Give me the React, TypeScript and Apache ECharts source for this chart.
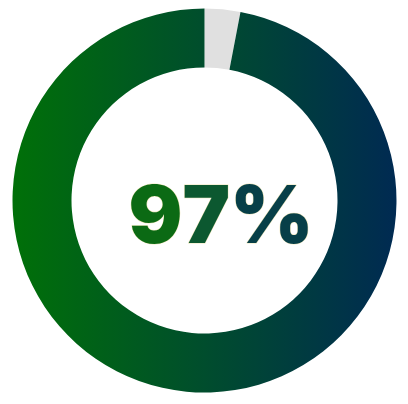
import React, { useRef, useEffect } from 'react';
import * as echarts from 'echarts';

const segmentNames = ['Remaining', 'Complete'];
const segmentValues = [3, 97];
const percentLabel = `${segmentValues[1]}%`;
// svg text can't take a gradient fill, so each glyph gets a step of it
const glyphColors = ['#0b6a14', '#0c5830', '#073f48'];

export default function App() {
  const chartRef = useRef<HTMLDivElement>(null);

  useEffect(() => {
    if (!chartRef.current) return;
    const chart = echarts.init(chartRef.current, undefined, { renderer: 'svg' });

    const ringGradient = new echarts.graphic.LinearGradient(0, 0, 1, 0, [
      { offset: 0, color: '#007008' },
      { offset: 1, color: '#002a52' }
    ]);

    const glyphs = percentLabel.split('');
    const rich: Record<string, any> = {};
    glyphs.forEach((_, i) => {
      rich['g' + i] = {
        fill: glyphColors[i],
        font: '900 80px Inter',
        stroke: 'rgba(230, 215, 140, 0.6)',
        lineWidth: 1
      };
    });

    const option: echarts.EChartsOption = {
      animation: false,
      backgroundColor: '#ffffff',
      series: [
        {
          type: 'pie',
          center: [204.5, 200.5],
          radius: [133, 192],
          startAngle: 90,
          clockwise: true,
          silent: true,
          label: { show: false },
          labelLine: { show: false },
          data: segmentNames.map((name, i) => ({
            name,
            value: segmentValues[i],
            itemStyle: {
              color: i === 0 ? '#e0e0e0' : ringGradient,
              borderWidth: 0
            }
          }))
        }
      ],
      graphic: [
        {
          type: 'text',
          x: 221,
          y: 213,
          style: {
            text: glyphs.map((c, i) => `{g${i}|${c}}`).join(''),
            rich,
            font: '900 80px Inter',
            align: 'center',
            verticalAlign: 'middle'
          }
        }
      ]
    };

    chart.setOption(option);
    return () => {
      chart.dispose();
    };
  }, []);

  return (
    <div
      ref={chartRef}
      style={{ position: 'fixed', left: 0, top: 0, width: '408px', height: '404px' }}
    />
  );
}
